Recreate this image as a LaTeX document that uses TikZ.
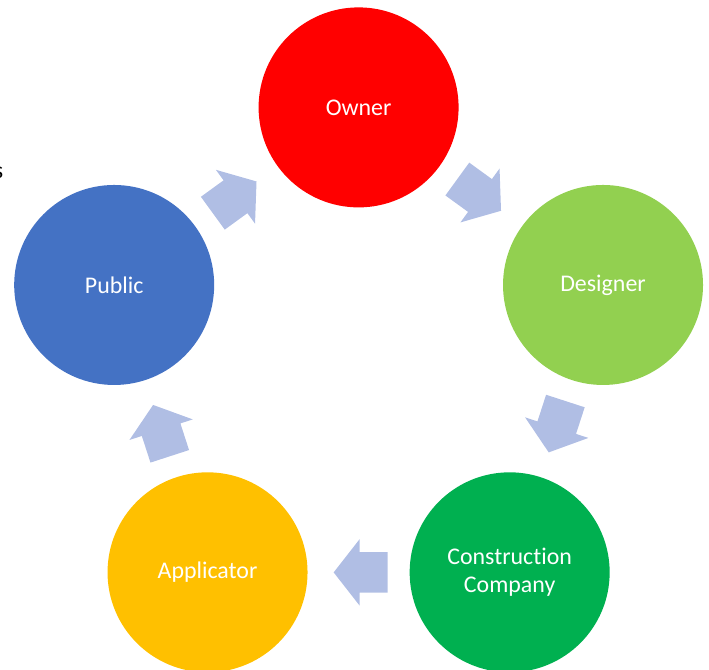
\documentclass[tikz,border=0pt]{standalone}
\usepackage{fontspec}
\setmainfont{Carlito}[Ligatures=NoCommon]
\usetikzlibrary{shapes.arrows}

\definecolor{ownerred}{HTML}{FF0000}
\definecolor{designgreen}{HTML}{92D050}
\definecolor{buildgreen}{HTML}{00B050}
\definecolor{applygold}{HTML}{FFC000}
\definecolor{publicblue}{HTML}{4472C4}
\definecolor{flowblue}{RGB}{176,190,228}

\begin{document}
\begin{tikzpicture}[party/.style={circle,minimum size=5cm,inner sep=0pt,text=white,
                      align=center,font=\fontsize{17}{19.5}\selectfont},
                    flow/.style={single arrow,fill=flowblue,draw=none,minimum height=1.35cm,
                      inner xsep=0pt,inner ysep=0.5cm,single arrow head extend=0.325cm,
                      single arrow tip angle=104}]
            \useasboundingbox (-8.965,-7.64) rectangle (8.76,9.11);

            \node[party,fill=ownerred] (owner) at (90:6.425) {Owner};
            \node[party,fill=designgreen] (designer) at (18:6.425) {Designer};
            \node[party,fill=buildgreen] (company) at (-54:6.425) {Construction\\Company};
            \node[party,fill=applygold] (applicator) at (-126:6.425) {Applicator};
            \node[party,fill=publicblue] (public) at (162:6.425) {Public};

            % arrows sit on the chord midpoints, pointing clockwise
            \node[flow,rotate=-36] (od) at (56.75:5.206) {};
            \node[flow,rotate=-108] (dc) at (-15.25:5.206) {};
            \node[flow,rotate=180] (ca) at (-87.25:5.206) {};
            \node[flow,rotate=108] (ap) at (-159.25:5.206) {};
            \node[flow,rotate=36] (po) at (128.75:5.206) {};

            \node[anchor=east,inner sep=0pt,font=\fontsize{17}{20}\selectfont] (cut) at (-8.878,4.785) {s};
        \end{tikzpicture}
\end{document}
